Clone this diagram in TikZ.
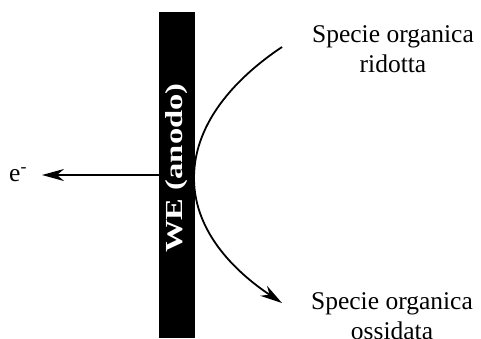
\documentclass[tikz,border=0pt]{standalone}
\usepackage{fontspec}
\setmainfont{Liberation Serif}
\usetikzlibrary{arrows.meta}
\begin{document}
\begin{tikzpicture}[x=1bp,y=-1bp,
  lbl/.style={font=\fontsize{25.5bp}{30bp}\selectfont, align=center, inner sep=0},
  conn/.style={line width=1.8bp, -{Stealth[length=22bp,width=12bp,inset=7bp]}},
  bar/.style={fill=black, draw=none, minimum width=36bp, minimum height=326bp, inner sep=0}]
\useasboundingbox (0,0) rectangle (481,338);
\node[bar] (we) at (177,175) {};
\node[rotate=90, text=white, inner sep=0, font=\fontsize{24.5bp}{28bp}\selectfont\bfseries] (welbl) at (176.5,168) {\scalebox{1.33}[1]{WE (anodo)}};
\node[lbl, anchor=base west] (el) at (9,181) {e\textsuperscript{-}};
\coordinate (etip) at (42,175);
\draw[conn] (we.west) -- (etip);
\node[lbl, anchor=base] (rid) at (393,72) {Specie organica\\ridotta};
\node[lbl, anchor=base] (oss) at (392,339) {Specie organica\\ossidata};
\coordinate (ctop) at (282,47);
\coordinate (cmid) at (194,178);
\coordinate (cbot) at (282,303);
\draw[conn] (ctop) .. controls (240,75) and (194,120) .. (cmid)
  .. controls (194,235) and (240,275) .. (cbot);
\end{tikzpicture}
\end{document}
